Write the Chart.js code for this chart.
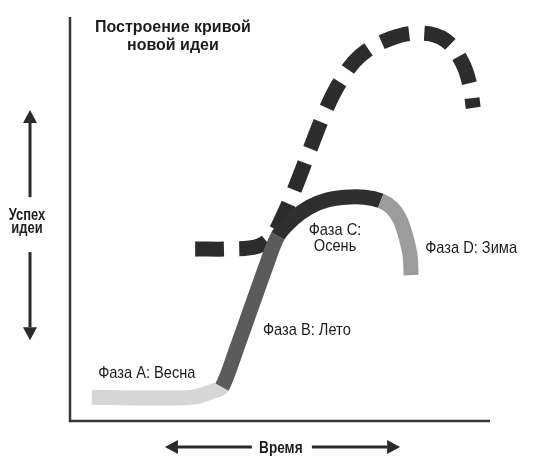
<!DOCTYPE html>
<html>
<head>
<meta charset="utf-8">
<script src="https://cdn.jsdelivr.net/npm/chart.js@4.4.1/dist/chart.umd.min.js"></script>
<style>
  html, body { margin: 0; padding: 0; background: #fff; }
  #wrap { width: 548px; height: 471px; position: relative; }
</style>
</head>
<body>
<div id="wrap"><canvas id="chartContainer"></canvas></div>
<script>
// time (x) and success (y), both on a 0..100 scale
const phaseA = [[5.2, 5.9], [19.0, 5.7], [29.3, 5.9], [34.0, 7.4], [36.2, 8.4]];
const phaseB = [[36.2, 8.4], [39.8, 18.3], [43.3, 28.5], [46.7, 38.4], [49.5, 45.8]];
const phaseC = [[49.5, 45.8], [53.1, 50.0], [57.1, 53.0], [61.2, 54.7], [65.5, 55.4], [70.2, 55.4], [74.0, 54.5]];
const phaseD = [[74.0, 54.5], [76.7, 52.7], [78.6, 49.8], [80.0, 45.5], [81.0, 40.8], [81.2, 36.1]];

// the next idea, drawn dashed
const newIdea = [[29.8, 42.6], [38.1, 42.6], [44.8, 43.3], [48.1, 45.8], [50.7, 50.7], [53.6, 57.7],
  [57.1, 67.1], [60.7, 76.5], [64.3, 83.9], [69.0, 90.3], [76.2, 94.6], [83.3, 96.0],
  [89.3, 94.3], [93.3, 88.9], [95.2, 83.2], [96.0, 77.5]];

const phaseNames = [["Фаза A: Весна"], ["Фаза B: Лето"], ["Фаза C:", "Осень"], ["Фаза D: Зима"]];
const phaseColors = ['#d6d6d6', '#5b5b5b', '#2f2f2f', '#9c9c9c'];
const titleLines = ["Построение кривой", "новой идеи"];
const yAxisLabel = ["Успех", "идеи"];
const xAxisLabel = "Время";

const toPoints = arr => arr.map(p => ({x: p[0], y: p[1]}));

// one continuous curve, phases share their end points
const phases = [phaseA, phaseB, phaseC, phaseD];
const ideaCurve = phases.reduce((all, ph, i) => all.concat(i ? ph.slice(1) : ph), []);
const phaseEnds = [];
phases.reduce((n, ph, i) => { n += ph.length - (i ? 1 : 0); phaseEnds.push(n - 1); return n; }, 0);

function phaseColor(ctx) {
  const i = ctx.p0DataIndex;
  for (let k = 0; k < phaseEnds.length; k++) {
    if (i < phaseEnds[k]) return phaseColors[k];
  }
  return phaseColors[phaseColors.length - 1];
}

function narrowText(ctx, text, x, y, sx) {
  ctx.save();
  ctx.translate(x, y);
  ctx.scale(sx, 1);
  ctx.fillText(text, 0, 0);
  ctx.restore();
}

function arrow(ctx, x1, y1, x2, y2) {
  // shaft from (x1,y1) to the tip (x2,y2)
  const ang = Math.atan2(y2 - y1, x2 - x1);
  const len = 13, half = 7;
  const bx = x2 - Math.cos(ang) * len, by = y2 - Math.sin(ang) * len;
  ctx.beginPath();
  ctx.moveTo(x1, y1);
  ctx.lineTo(bx, by);
  ctx.stroke();
  ctx.beginPath();
  ctx.moveTo(x2, y2);
  ctx.lineTo(bx - Math.sin(ang) * half, by + Math.cos(ang) * half);
  ctx.lineTo(bx + Math.sin(ang) * half, by - Math.cos(ang) * half);
  ctx.closePath();
  ctx.fill();
}

const sketchDecor = {
  id: 'sketchDecor',
  afterDraw(chart) {
    const {ctx, chartArea: ca, scales: {x, y}} = chart;
    ctx.save();

    // axes
    ctx.strokeStyle = '#363636';
    ctx.lineWidth = 2.5;
    ctx.beginPath();
    ctx.moveTo(ca.left, ca.top);
    ctx.lineTo(ca.left, ca.bottom);
    ctx.lineTo(ca.right, ca.bottom);
    ctx.stroke();

    ctx.fillStyle = '#1c1c1c';
    ctx.textBaseline = 'alphabetic';
    ctx.textAlign = 'center';

    // title
    ctx.font = 'bold 16px "Liberation Sans", Arial, sans-serif';
    ctx.fillText(titleLines[0], x.getPixelForValue(24.5), y.getPixelForValue(96.3));
    ctx.fillText(titleLines[1], x.getPixelForValue(24.5), y.getPixelForValue(91.8));

    // phase labels
    ctx.font = '17px "Liberation Sans", Arial, sans-serif';
    const spots = [[18.3, [10.6]], [56.4, [21.3]], [63.1, [46.0, 42.1]], [95.5, [41.6]]];
    phaseNames.forEach((lines, i) => {
      lines.forEach((t, j) => {
        narrowText(ctx, t, x.getPixelForValue(spots[i][0]), y.getPixelForValue(spots[i][1][j]), 0.86);
      });
    });

    // y axis label with arrows
    ctx.font = 'bold 17px "Liberation Sans", Arial, sans-serif';
    const yl = ca.left - 43;
    narrowText(ctx, yAxisLabel[0], yl, y.getPixelForValue(49.75), 0.76);
    narrowText(ctx, yAxisLabel[1], yl, y.getPixelForValue(46.5), 0.76);
    ctx.strokeStyle = '#2a2a2a';
    ctx.fillStyle = '#2a2a2a';
    ctx.lineWidth = 3;
    const ax = ca.left - 40;
    arrow(ctx, ax, y.getPixelForValue(55.4), ax, y.getPixelForValue(77.0));
    arrow(ctx, ax, y.getPixelForValue(41.8), ax, y.getPixelForValue(20.0));

    // x axis label with arrows
    ctx.fillStyle = '#1c1c1c';
    narrowText(ctx, xAxisLabel, x.getPixelForValue(50.2), ca.bottom + 32, 0.8);
    ctx.fillStyle = '#2a2a2a';
    const ay = ca.bottom + 26;
    arrow(ctx, x.getPixelForValue(43.3), ay, x.getPixelForValue(22.6), ay);
    arrow(ctx, x.getPixelForValue(57.6), ay, x.getPixelForValue(78.6), ay);

    ctx.restore();
  }
};

const chart = new Chart(document.getElementById('chartContainer'), {
  type: 'scatter',
  data: {
    datasets: [
      {
        data: toPoints(ideaCurve),
        showLine: true,
        borderColor: phaseColors[0],
        segment: { borderColor: phaseColor },
        borderWidth: 15,
        borderCapStyle: 'butt',
        borderJoinStyle: 'round',
        pointRadius: 0,
        tension: 0.3,
      },
      {
        data: toPoints(newIdea),
        showLine: true,
        borderColor: '#2c2c2c',
        borderWidth: 15,
        borderDash: [29, 15],
        borderCapStyle: 'butt',
        pointRadius: 0,
        tension: 0.4,
      },
    ],
  },
  options: {
    responsive: true,
    maintainAspectRatio: false,
    animation: false,
    layout: { padding: { left: 70, right: 58, top: 17, bottom: 50 } },
    scales: {
      x: { type: 'linear', min: 0, max: 100, display: false },
      y: { type: 'linear', min: 0, max: 100, display: false },
    },
    plugins: {
      legend: { display: false },
      tooltip: { enabled: false },
      title: { display: false },
    },
  },
  plugins: [sketchDecor],
});
</script>
</body>
</html>
